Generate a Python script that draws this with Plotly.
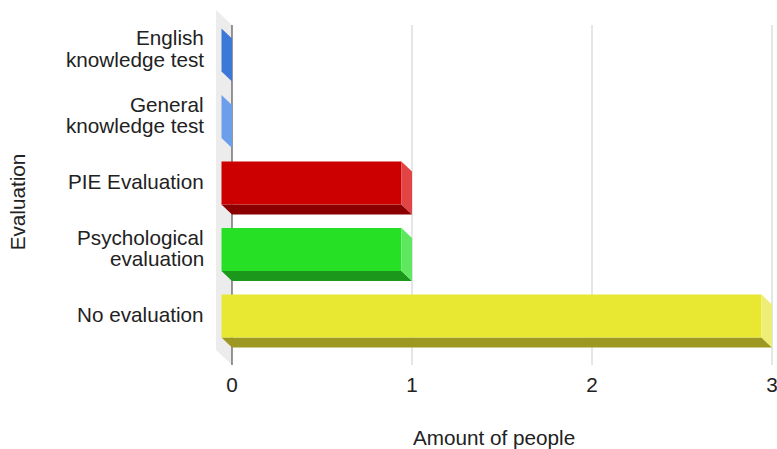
import plotly.graph_objects as go

# Evaluation categories (top to bottom) and number of people per category
categories = [
    "English\nknowledge test",
    "General\nknowledge test",
    "PIE Evaluation",
    "Psychological\nevaluation",
    "No evaluation",
]
people = [0, 0, 1, 1, 3]
x_ticks = [0, 1, 2, 3]
x_title = "Amount of people"
y_title = "Evaluation"

# Face colours per bar: front, side (right), bottom
front_colors = ["#3c78d8", "#6d9eeb", "#cc0000", "#26e026", "#e8e833"]
side_colors = ["#3c78d8", "#6d9eeb", "#e04444", "#5fe85f", "#eeee77"]
bottom_colors = ["#2a56a0", "#4a78c0", "#8a0000", "#1b981b", "#9d9822"]

FONT = "Liberation Sans, Arial, sans-serif"
FSIZE = 20.7
TEXT = "#222222"

# Pixel-ish geometry expressed in data units
X_PER_PX = 1 / 180.0
Y_PER_PX = 1 / 66.5
half_h = 21.5 * Y_PER_PX      # half height of a bar's front face
dx = 10.5 * X_PER_PX          # depth offset along x
dy = 10.0 * Y_PER_PX          # depth offset along y
wall_dx = 16 * X_PER_PX
wall_dy = 15 * Y_PER_PX
y_top = -0.6015
y_bot = 4.737
grid_top = -0.376

fig = go.Figure()


def poly(xs, ys, color):
    fig.add_trace(go.Scatter(
        x=xs + [xs[0]], y=ys + [ys[0]], mode="lines", fill="toself",
        fillcolor=color, line=dict(width=0, color=color),
        hoverinfo="skip", showlegend=False))


# back wall behind the value axis
poly([-wall_dx, 0, 0, -wall_dx],
     [y_top, grid_top, y_bot, y_bot - wall_dy], "#ececec")

# vertical gridlines
for t in x_ticks[1:]:
    fig.add_trace(go.Scatter(x=[t, t], y=[grid_top, y_bot], mode="lines",
                             line=dict(color="#cccccc", width=1),
                             hoverinfo="skip", showlegend=False))
# baseline at zero
fig.add_trace(go.Scatter(x=[0, 0], y=[grid_top, y_bot], mode="lines",
                         line=dict(color="#333333", width=1),
                         hoverinfo="skip", showlegend=False))

# 3D bars: front face offset up/left from the back face at the axis
for i, v in enumerate(people):
    top, bot = i - half_h, i + half_h
    if v > 0:
        # bottom face
        poly([-dx, v - dx, v, 0], [bot, bot, bot + dy, bot + dy], bottom_colors[i])
        # front face
        poly([-dx, v - dx, v - dx, -dx], [top, top, bot, bot], front_colors[i])
    # right side face
    poly([v - dx, v, v, v - dx], [top, top + dy, bot + dy, bot], side_colors[i])

annotations = []
# category labels, one annotation per text line
LINE = 21.5
for i, cat in enumerate(categories):
    lines = cat.split("\n")
    n = len(lines)
    for k, ln in enumerate(lines):
        annotations.append(dict(
            text=ln, xref="paper", yref="y", x=0, y=i, xanchor="right",
            yanchor="middle", xshift=-10,
            yshift=((n - 1) / 2 - k) * LINE + 1.5, showarrow=False,
            font=dict(family=FONT, size=FSIZE, color=TEXT)))

annotations.append(dict(text=x_title, xref="paper", yref="paper", x=0.5,
                        y=-0.2056, xanchor="center", yanchor="middle",
                        xshift=-2, showarrow=False,
                        font=dict(family=FONT, size=FSIZE, color=TEXT)))
annotations.append(dict(text=y_title, xref="paper", yref="paper", x=-0.3555,
                        y=0.459, xanchor="center", yanchor="middle",
                        textangle=-90, showarrow=False,
                        font=dict(family=FONT, size=FSIZE, color=TEXT)))

fig.update_layout(
    width=777, height=449,
    margin=dict(l=216, r=2, t=10, b=84, autoexpand=False),
    paper_bgcolor="white", plot_bgcolor="white",
    xaxis=dict(range=[-16 * X_PER_PX, 543 * X_PER_PX], tickvals=x_ticks,
               showgrid=False, zeroline=False, showline=False, ticks="",
               ticklabelstandoff=5, ticklabeloverflow="allow",
               automargin=False,
               tickfont=dict(family=FONT, size=FSIZE, color=TEXT),
               fixedrange=True),
    yaxis=dict(range=[y_bot, y_top], visible=False, fixedrange=True),
    annotations=annotations,
)

fig.write_html("out.html")
